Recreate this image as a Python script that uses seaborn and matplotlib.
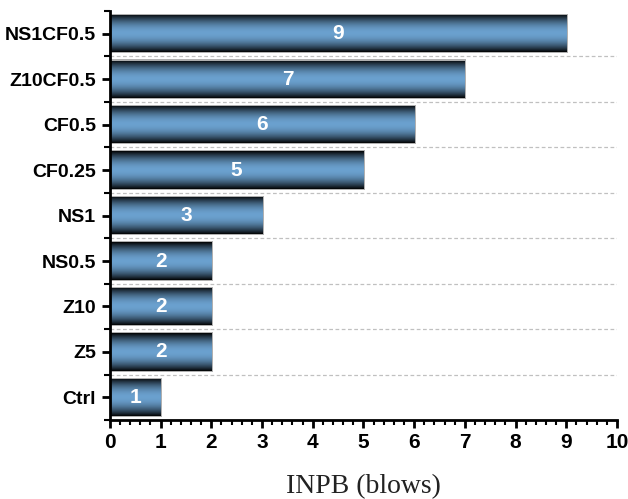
import numpy as np
import pandas as pd
import matplotlib
matplotlib.use("Agg")
import matplotlib.pyplot as plt
from matplotlib.ticker import MultipleLocator, FixedLocator
import seaborn as sns

samples = ["NS1CF0.5", "Z10CF0.5", "CF0.5", "CF0.25", "NS1", "NS0.5", "Z10", "Z5", "Ctrl"]
inpb = [9, 7, 6, 5, 3, 2, 2, 2, 1]

df = pd.DataFrame({"sample": samples, "inpb": inpb})

sns.set_theme(style="white")
plt.rcParams["font.family"] = ["Liberation Sans", "DejaVu Sans"]

fig = plt.figure(figsize=(6.28, 4.99), dpi=100)
ax = fig.add_axes([0.175, 0.158, 0.8075, 0.82])

sns.barplot(data=df, x="inpb", y="sample", order=samples, width=0.82,
            color="#6a9fcc", edgecolor="none", ax=ax)

# cylinder-like shading: dark edges, light blue core
t = np.linspace(0, 1, 256)
prof = np.sin(np.pi * t) ** 0.9
core = np.array([0.42, 0.63, 0.81])
grad = (prof[:, None] * core[None, :])[:, None, :]

for p in list(ax.patches):
    x0, y0 = p.get_x(), p.get_y()
    w, h = p.get_width(), p.get_height()
    p.set_facecolor("none")
    # faint grey rim
    rim = plt.Rectangle((x0, y0 - 0.025), w + 0.03, h + 0.05, facecolor="#b0b0b0",
                        edgecolor="none", zorder=1.5)
    ax.add_patch(rim)
    im = ax.imshow(grad, extent=(x0, x0 + w, y0 + h, y0), aspect="auto",
                   interpolation="bilinear", zorder=2)
    im.set_clip_path(p)
    p.set_zorder(2.5)

for i, v in enumerate(inpb):
    ax.text(v / 2, i, str(v), color="white", fontsize=15, fontweight="bold",
            ha="center", va="center", zorder=3)

ax.set_xlim(0, 10)
ax.set_ylim(len(samples) - 0.5, -0.5)
ax.xaxis.set_major_locator(MultipleLocator(1))
ax.xaxis.set_minor_locator(MultipleLocator(0.2))
ax.yaxis.set_minor_locator(FixedLocator(np.arange(-0.5, len(samples), 1.0)))

ax.grid(False)
for yb in np.arange(0.5, len(samples) - 0.5, 1.0):
    ax.axhline(yb, color="#c0c0c0", lw=0.9, ls=(0, (3, 2)), zorder=1)

for s in ["top", "right"]:
    ax.spines[s].set_visible(False)
for s in ["left", "bottom"]:
    ax.spines[s].set_color("black")
    ax.spines[s].set_linewidth(2)

ax.tick_params(axis="both", which="major", direction="out", length=6, width=2,
               color="black", labelsize=14, pad=4, bottom=True, left=True)
ax.tick_params(axis="x", which="major", labelsize=15, pad=3)
ax.tick_params(axis="x", which="minor", direction="out", length=3.5, width=1.5,
               color="black", bottom=True)
ax.tick_params(axis="y", which="minor", direction="out", length=4, width=1.5,
               color="black", left=True)
for lab in ax.get_xticklabels() + ax.get_yticklabels():
    lab.set_fontweight("bold")
    lab.set_color("black")

ax.set_ylabel("")
ax.set_xlabel("INPB (blows)", fontsize=20, family=["Liberation Serif", "DejaVu Serif"],
              color="#222222", labelpad=16)

fig.savefig("out.png", dpi=100)
